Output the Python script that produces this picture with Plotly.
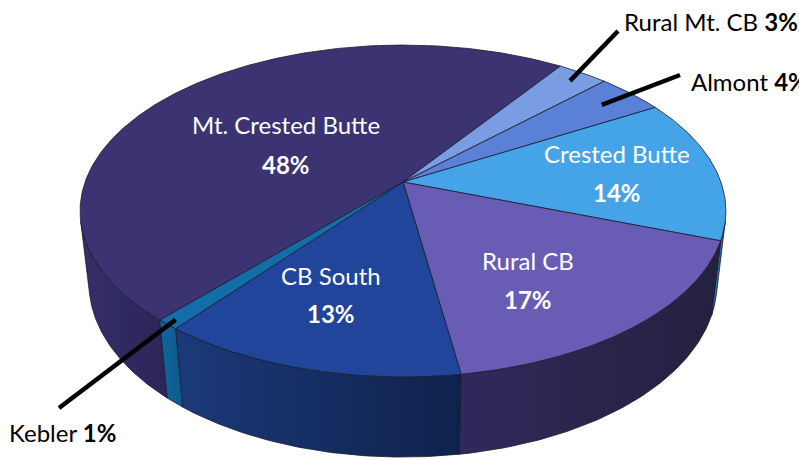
import numpy as np
import plotly.graph_objects as go

# ---------------- data ----------------
labels = ["Mt. Crested Butte", "Rural Mt. CB", "Almont", "Crested Butte",
          "Rural CB", "CB South", "Kebler"]
values = [48, 3, 4, 14, 17, 13, 1]
pct_text = ["48%", "3%", "4%", "14%", "17%", "13%", "1%"]

# ---------------- styles ----------------
top_colors = ["#3B3372", "#7A9CE2", "#5B80D8", "#45A4E8", "#685CB4", "#20459A", "#136DA8"]
side_colors = [("#352E6B", "#2B2558"), ("#5F7BBF", "#4E68A8"), ("#4663B0", "#3A5499"),
               ("#2F7BBF", "#236399"), ("#302A5C", "#24203E"), ("#1B3A7A", "#0F214C"),
               ("#10669F", "#0D5A8C")]
EDGE = "#1C1B2B"
FONT = "Lato"

# projection (perspective 3D pie), in pixel space
CX, CY = 403.0, 182.0
F = 1570.0
D = 4.938
ELEV = np.arcsin(0.506)
H = 0.2687
START = 228.3  # angle of first slice start; slices run clockwise
C, S = np.cos(ELEV), np.sin(ELEV)


def proj(t_deg, z=0.0, r=1.0):
    t = np.radians(np.asarray(t_deg, dtype=float))
    X = r * np.cos(t)
    Y = r * np.sin(t)
    depth = D + Y * C - z * S
    return CX + F * X / depth, CY - F * (Y * S + z * C) / depth


total = float(sum(values))
bounds = []
acc = 0.0
for v in values:
    ts = START - 360.0 * acc / total
    te = ts - 360.0 * v / total
    bounds.append((ts, te))
    acc += v

# visible part of the cylinder wall
a = np.degrees(np.arcsin(1.0 / (D * C)))
V1, V2 = 180.0 + a, 360.0 - a

fig = go.Figure()

# side walls
for i, (ts, te) in enumerate(bounds):
    for k in range(-2, 3):
        lo = max(te, V1 + 360 * k)
        hi = min(ts, V2 + 360 * k)
        if hi > lo:
            tt = np.linspace(lo, hi, 80)
            xt, yt = proj(tt, 0.0)
            xb, yb = proj(tt[::-1], -H)
            xs = np.concatenate([xt, xb, xt[:1]])
            ys = np.concatenate([yt, yb, yt[:1]])
            c1, c2 = side_colors[i]
            fig.add_trace(go.Scatter(
                x=xs, y=ys, mode="lines", fill="toself",
                line=dict(color=EDGE, width=0.8),
                fillgradient=dict(type="horizontal",
                                  colorscale=[[0, c1], [1, c2]]),
                hoverinfo="skip", showlegend=False))

# top faces
for i, (ts, te) in enumerate(bounds):
    n = max(4, int(abs(ts - te) * 2))
    tt = np.linspace(ts, te, n)
    xa, ya = proj(tt, 0.0)
    xs = np.concatenate([[CX], xa, [CX]])
    ys = np.concatenate([[CY], ya, [CY]])
    fig.add_trace(go.Scatter(
        x=xs, y=ys, mode="lines", fill="toself", fillcolor=top_colors[i],
        line=dict(color=EDGE, width=0.8),
        hoverinfo="skip", showlegend=False, name=labels[i]))

# inside labels (label name / percent positions in pixels)
inside_pos = {
    "Mt. Crested Butte": (286, 124, 164),
    "Crested Butte": (617, 153, 192),
    "Rural CB": (528, 260, 299),
    "CB South": (331, 275, 313),
}
annotations = []
for i, name in enumerate(labels):
    if name in inside_pos:
        x, y1, y2 = inside_pos[name]
        annotations.append(dict(x=x, y=y1, text=name, showarrow=False,
                                xref="x", yref="y", xanchor="center", yanchor="middle",
                                font=dict(family=FONT, size=24, color="white")))
        annotations.append(dict(x=x, y=y2, text="<b>%s</b>" % pct_text[i], showarrow=False,
                                xref="x", yref="y", xanchor="center", yanchor="middle",
                                font=dict(family=FONT, size=24, color="white")))

# outside labels with leader lines: (inner radius, outer x, outer y, text x, text y)
outside_pos = {
    "Rural Mt. CB": (0.92, 618, 31, 622, 21),
    "Almont": (0.86, 680, 75, 689, 81),
    "Kebler": (0.97, 59, 408, 7, 432),
}
for i, name in enumerate(labels):
    if name in outside_pos:
        r, ox, oy, tx, ty = outside_pos[name]
        ts, te = bounds[i]
        ix, iy = proj((ts + te) / 2.0, 0.0, r)
        fig.add_trace(go.Scatter(x=[float(ix), ox], y=[float(iy), oy], mode="lines",
                                 line=dict(color="black", width=4.5),
                                 hoverinfo="skip", showlegend=False))
        annotations.append(dict(x=tx, y=ty, text="%s <b>%s</b>" % (name, pct_text[i]),
                                showarrow=False, xref="x", yref="y",
                                xanchor="left", yanchor="middle",
                                font=dict(family=FONT, size=24, color="black")))

fig.update_layout(
    width=799, height=460,
    margin=dict(l=0, r=0, t=0, b=0),
    paper_bgcolor="white", plot_bgcolor="white",
    xaxis=dict(range=[0, 799], visible=False, fixedrange=True),
    yaxis=dict(range=[460, 0], visible=False, fixedrange=True),
    annotations=annotations,
    showlegend=False,
)

fig.write_html("out.html", config={"displayModeBar": False},
               post_script="document.body.style.margin='0';document.body.style.overflow='hidden';")
